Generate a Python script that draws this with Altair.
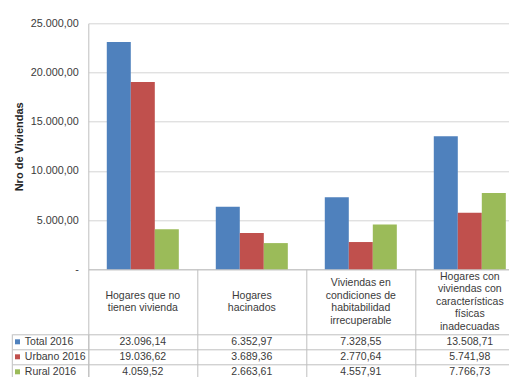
import altair as alt
import pandas as pd

# ---- data ----
categories = [
    "Hogares que no tienen vivienda",
    "Hogares hacinados",
    "Viviendas en condiciones de habitabilidad irrecuperable",
    "Hogares con viviendas con características físicas inadecuadas",
]
header_lines = [
    ["Hogares que no", "tienen vivienda"],
    ["Hogares", "hacinados"],
    ["Viviendas en", "condiciones de", "habitabilidad", "irrecuperable"],
    ["Hogares con", "viviendas con", "características", "físicas", "inadecuadas"],
]
series = ["Total 2016", "Urbano 2016", "Rural 2016"]
total_2016 = [23096.14, 6352.97, 7328.55, 13508.71]
urbano_2016 = [19036.62, 3689.36, 2770.64, 5741.98]
rural_2016 = [4059.52, 2663.61, 4557.91, 7766.73]
y_ticks = [0, 5000, 10000, 15000, 20000, 25000]
colors = ["#4F81BD", "#C0504D", "#9BBB59"]


def es(v):
    return f"{v:,.2f}".replace(",", "#").replace(".", ",").replace("#", ".")


rows = []
for s, vals in zip(series, [total_2016, urbano_2016, rural_2016]):
    for c, v in zip(categories, vals):
        rows.append({"categoria": c, "serie": s, "valor": v, "etiqueta": es(v)})
df = pd.DataFrame(rows)

hrows = []
for c, lines in zip(categories, header_lines):
    n = len(lines)
    for i, t in enumerate(lines):
        hrows.append({"categoria": c, "linea": t, "pos": i - (n - 1) / 2})
hdf = pd.DataFrame(hrows)
sdf = pd.DataFrame({"serie": series})
one = pd.DataFrame({"k": [0]})

W = 436
H_BARS = 246
H_HEAD = 65
H_TAB = 45
LH = 12.5
LINE = "#BFBFBF"
GRID = "#D4D4D4"
TXT = "#3A3A3A"
FS = 10.5
NBSP = "\u00a0"

# page area available to the chart (window minus 8px page margin each side)
PAGE_W, PAGE_H = 501, 369
PAD_L, PAD_T = 80.3, 15.3

xscale = alt.Scale(domain=categories, paddingInner=0, paddingOuter=0)
cscale = alt.Scale(domain=series, range=colors)

zero_label = "-" + NBSP * 2
bars = alt.Chart(df).mark_bar().encode(
    x=alt.X("categoria:N", sort=categories, scale=xscale,
            axis=alt.Axis(labels=False, ticks=False, title=None, grid=False,
                          domainColor=LINE)),
    xOffset=alt.XOffset("serie:N", sort=series,
                        scale=alt.Scale(domain=series, paddingInner=0, paddingOuter=0.77)),
    y=alt.Y("valor:Q", scale=alt.Scale(domain=[0, 25000], nice=False),
            axis=alt.Axis(values=y_ticks, ticks=False, grid=True, gridColor=GRID,
                          domainColor=LINE, labelPadding=10, labelFontSize=10.8,
                          labelColor=TXT,
                          labelExpr="datum.value == 0 ? '" + zero_label + "' : format(datum.value / 1000, 'd') + '.000,00'",
                          title="Nro de Viviendas", titleFontSize=11, titleFontWeight="bold",
                          titleColor="#262626", titlePadding=6)),
    color=alt.Color("serie:N", scale=cscale, legend=None),
).properties(width=W, height=H_BARS)

half = (H_HEAD / 2) / LH
header = alt.Chart(hdf).mark_text(baseline="middle", fontSize=FS, color=TXT).encode(
    x=alt.X("categoria:N", sort=categories, scale=xscale,
            axis=alt.Axis(labels=False, ticks=False, domain=False, title=None,
                          grid=True, tickBand="extent", gridColor=LINE)),
    y=alt.Y("pos:Q", scale=alt.Scale(domain=[-half, half], reverse=True, nice=False, zero=False),
            axis=None),
    text="linea:N",
).properties(width=W, height=H_HEAD)

cells = alt.Chart(df).mark_text(fontSize=FS, color=TXT, baseline="middle").encode(
    x=alt.X("categoria:N", sort=categories, scale=xscale,
            axis=alt.Axis(labels=False, ticks=False, domain=False, title=None,
                          grid=True, tickBand="extent", gridColor=LINE)),
    y=alt.Y("serie:N", sort=series,
            scale=alt.Scale(domain=series, paddingInner=0, paddingOuter=0),
            axis=alt.Axis(title=None, grid=True, tickBand="extent", gridColor=LINE,
                          ticks=True, tickSize=76, tickColor=LINE, domainColor=LINE,
                          labelAlign="left", labelPadding=-12, labelFontSize=FS,
                          labelColor=TXT)),
    text="etiqueta:N",
)
squares = alt.Chart(sdf).mark_point(shape="square", filled=True, size=25, opacity=1).encode(
    x=alt.value(-70.8),
    y=alt.Y("serie:N", sort=series),
    color=alt.Color("serie:N", scale=cscale, legend=None),
)
border = alt.Chart(one).mark_rule(color=LINE, clip=False).encode(
    x=alt.value(-76), y=alt.value(0), y2=alt.value(H_TAB)
)
table = alt.layer(cells, squares, border).properties(width=W, height=H_TAB)

chart = alt.vconcat(bars, header, table, spacing=0, bounds="flush").properties(
    autosize=alt.AutoSizeParams(type="none"),
    padding={"left": PAD_L, "top": PAD_T,
             "right": PAGE_W - W - PAD_L, "bottom": PAGE_H - PAD_T},
).configure(font="Liberation Sans").configure_view(stroke=None)

chart.save("out.html", embed_options={"renderer": "svg", "actions": False})
